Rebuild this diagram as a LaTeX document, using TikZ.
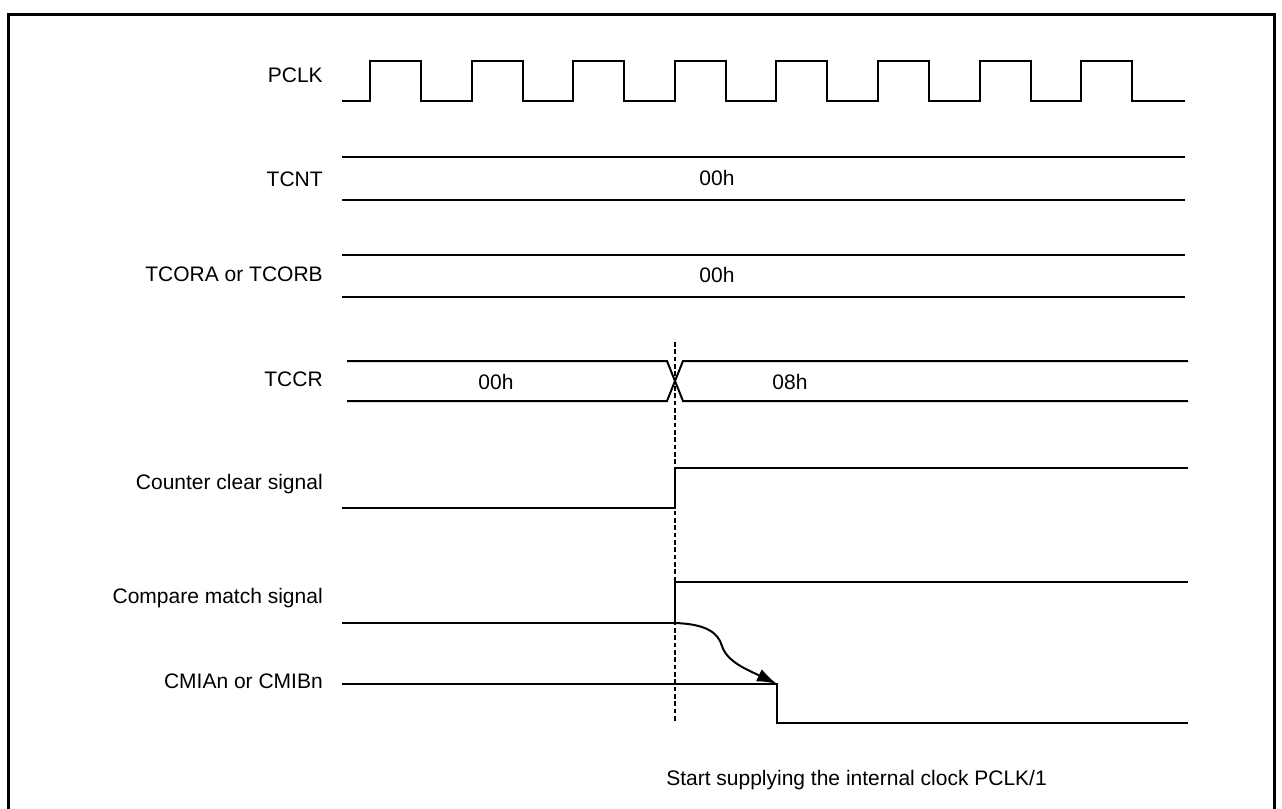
\documentclass[tikz,border=0pt]{standalone}
\usepackage{fontspec}
\setmainfont{Liberation Sans}
\usetikzlibrary{arrows.meta}
\begin{document}
\begin{tikzpicture}[x=0.75pt,y=-0.75pt,
  sig/.style={line width=1.5pt, line join=miter},
  frame/.style={line width=2.25pt},
  guide/.style={line width=1.9pt, dash pattern=on 3.5pt off 2pt},
  lbl/.style={anchor=base east, inner sep=0pt, font=\fontsize{15.75}{18}\selectfont},
  val/.style={anchor=base, inner sep=0pt, font=\fontsize{15.75}{18}\selectfont},
  note/.style={anchor=base west, inner sep=0pt, font=\fontsize{15.75}{18}\selectfont},
  causal/.style={line width=1.5pt, -{Latex[length=15pt,width=10pt]}}
  ]
\useasboundingbox (0,0) rectangle (1282,808);
\draw[frame] (8,830) -- (8,14) -- (1274,14) -- (1274,830);

% labels
\node[lbl] (lpclk) at (323,82) {PCLK};
\node[lbl] (ltcnt) at (323,186) {TCNT};
\node[lbl] (ltcor) at (323,281) {TCORA or TCORB};
\node[lbl] (ltccr) at (323,386) {TCCR};
\node[lbl] (lclr) at (323,489) {Counter clear signal};
\node[lbl] (lcmp) at (323,603) {Compare match signal};
\node[lbl] (lcmi) at (323,688) {CMIAn or CMIBn};

% PCLK
\draw[sig] (342,101)
  \foreach \k in {0,...,7} {
    -- ({370+101.6*\k},101) -- ({370+101.6*\k},61)
    -- ({421+101.6*\k},61) -- ({421+101.6*\k},101)
  } -- (1185,101);

% TCNT
\draw[sig] (342,157) -- (1185,157);
\draw[sig] (342,200) -- (1185,200);
\node[val] (vtcnt) at (717,185) {00h};

% TCORA/TCORB
\draw[sig] (342,255) -- (1185,255);
\draw[sig] (342,297) -- (1185,297);
\node[val] (vtcor) at (717,282) {00h};

% TCCR
\draw[sig] (347,361) -- (667,361) -- (683,401) -- (1188,401);
\draw[sig] (347,401) -- (667,401) -- (683,361) -- (1188,361);
\node[val] (vtccr0) at (496,389) {00h};
\node[val] (vtccr1) at (790,389) {08h};

% Counter clear
\draw[sig] (342,508) -- (675,508) -- (675,468) -- (1188,468);

% Compare match
\draw[sig] (342,623) -- (675,623) -- (675,582) -- (1188,582);

% CMIAn / CMIBn
\draw[sig] (342,684) -- (777,684) -- (777,723) -- (1188,723);

% guide
\coordinate (gtop) at (675,342);
\coordinate (gbot) at (675,723);
\draw[guide] (gtop) -- (gbot);

% cause arrow
\coordinate (cmstart) at (675,623);
\coordinate (cmend) at (777,684);
\draw[causal] (cmstart) .. controls (705,624) and (718,632) .. (722,646)
  .. controls (727,662) and (748,670) .. (cmend);

\node[note] (vnote) at (666,785) {Start supplying the internal clock PCLK/1};
\end{tikzpicture}
\end{document}
